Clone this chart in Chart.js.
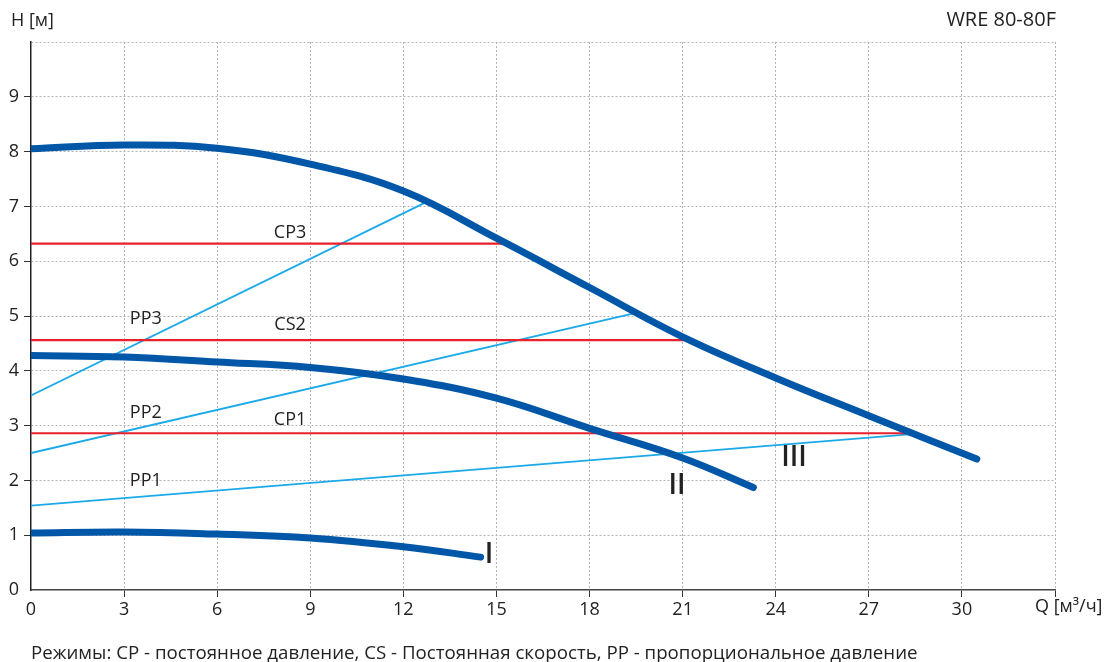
<!DOCTYPE html>
<html>
<head>
<meta charset="utf-8">
<script src="https://cdn.jsdelivr.net/npm/chart.js@4.4.1/dist/chart.umd.min.js"></script>
<style>
  html, body { margin: 0; padding: 0; background: #fff; }
  #wrap { position: relative; width: 1108px; height: 662px; }
</style>
</head>
<body>
<div id="wrap"><canvas id="pumpChart" width="1108" height="662"></canvas></div>
<script>
// Q, м3/ч
const xTicks = [0, 3, 6, 9, 12, 15, 18, 21, 24, 27, 30, 33];
const yTicks = [0, 1, 2, 3, 4, 5, 6, 7, 8, 9, 10];

// speed curves I, II, III
const flowI = [0, 3, 6, 9, 12, 14.49];
const headI = [1.04, 1.06, 1.02, 0.95, 0.79, 0.6];
const flowII = [0, 3, 6, 9, 12, 15, 18, 21, 23.28];
const headII = [4.28, 4.25, 4.16, 4.06, 3.85, 3.5, 2.95, 2.41, 1.87];
const flowIII = [0, 3, 6, 9, 12, 15, 18, 21, 24, 27, 30.48];
const headIII = [8.05, 8.12, 8.06, 7.77, 7.28, 6.42, 5.52, 4.62, 3.87, 3.18, 2.39];

// constant pressure / speed lines
const cpNames = ["CP3", "CS2", "CP1"];
const cpHead = [6.32, 4.56, 2.86];
const cpEnd = [15.28, 21.26, 28.5];

// proportional pressure lines
const ppNames = ["PP3", "PP2", "PP1"];
const ppStartHead = [3.55, 2.5, 1.54];
const ppEndFlow = [12.67, 19.53, 28.5];
const ppEndHead = [7.06, 5.06, 2.85];

// text labels placed in data units
const curveLabels = [
  { text: "CP3", x: 8.35, y: 6.51 },
  { text: "CS2", x: 8.35, y: 4.84 },
  { text: "CP1", x: 8.35, y: 3.11 },
  { text: "PP3", x: 3.7, y: 4.95 },
  { text: "PP2", x: 3.7, y: 3.24 },
  { text: "PP1", x: 3.7, y: 1.99 }
];
const romanLabels = [
  { text: "I", x: 14.76, y: 0.64 },
  { text: "II", x: 20.82, y: 1.9 },
  { text: "III", x: 24.59, y: 2.41 }
];

const FONT = "'Open Sans', 'Noto Sans', sans-serif";
const DARK_BLUE = "#0057a8";
const RED = "#e8212b";
const LIGHT_BLUE = "#1aa9e9";

function toPoints(xs, ys) {
  return xs.map((x, i) => ({ x: x, y: ys[i] }));
}

function buildDatasets() {
  const sets = [];
  [[flowI, headI], [flowII, headII], [flowIII, headIII]].forEach(([xs, ys]) => {
    sets.push({
      data: toPoints(xs, ys),
      borderColor: DARK_BLUE,
      borderWidth: 7,
      borderCapStyle: "round",
      tension: 0.4,
      pointRadius: 0
    });
  });
  cpNames.forEach((name, i) => {
    sets.push({
      label: name,
      data: [{ x: 0, y: cpHead[i] }, { x: cpEnd[i], y: cpHead[i] }],
      borderColor: RED,
      borderWidth: 2.2,
      pointRadius: 0
    });
  });
  ppNames.forEach((name, i) => {
    sets.push({
      label: name,
      data: [{ x: 0, y: ppStartHead[i] }, { x: ppEndFlow[i], y: ppEndHead[i] }],
      borderColor: LIGHT_BLUE,
      borderWidth: 1.8,
      pointRadius: 0
    });
  });
  return sets;
}

const textPlugin = {
  id: "textPlugin",
  afterDatasetsDraw(chart) {
    const ctx = chart.ctx;
    const xs = chart.scales.x;
    const ys = chart.scales.y;
    ctx.save();
    ctx.fillStyle = "#222";
    ctx.textBaseline = "middle";
    ctx.textAlign = "center";
    ctx.font = "18px " + FONT;
    curveLabels.forEach(l => ctx.fillText(l.text, xs.getPixelForValue(l.x), ys.getPixelForValue(l.y)));
    ctx.font = "600 28px " + FONT;
    romanLabels.forEach(l => ctx.fillText(l.text, xs.getPixelForValue(l.x), ys.getPixelForValue(l.y)));

    ctx.font = "18px " + FONT;
    ctx.textAlign = "left";
    ctx.fillText("H [м]", 11, 21);
    ctx.fillText("Q [м³/ч]", xs.getPixelForValue(33) - 20, 607);
    ctx.textAlign = "right";
    ctx.font = "20px " + FONT;
    ctx.fillText("WRE 80-80F", xs.getPixelForValue(33) + 1, 20);

    ctx.textAlign = "left";
    ctx.textBaseline = "alphabetic";
    ctx.font = "18.7px " + FONT;
    ctx.fillText("Режимы: CP - постоянное давление, CS - Постоянная скорость, PP - пропорциональное давление", 31, 659);
    ctx.restore();
  }
};

function gridColor(ctx) {
  return ctx.tick && ctx.tick.value === 0 ? "rgba(0,0,0,0)" : "#b2b2b2";
}

function renderChart() {
  const ctx = document.getElementById("pumpChart").getContext("2d");
  new Chart(ctx, {
    type: "line",
    data: { datasets: buildDatasets() },
    options: {
      responsive: false,
      animation: false,
      events: [],
      layout: { padding: { left: 0, top: 42, right: 53, bottom: 0 } },
      plugins: { legend: { display: false }, tooltip: { enabled: false } },
      scales: {
        x: {
          type: "linear",
          min: 0,
          max: 33,
          afterBuildTicks: s => { s.ticks = xTicks.map(v => ({ value: v })); },
          afterFit: s => { s.height = 72; },
          ticks: {
            color: "#222",
            font: { family: FONT, size: 18 },
            padding: 2,
            maxRotation: 0,
            autoSkip: false,
            callback: v => (v === 33 ? "" : v)
          },
          grid: {
            color: gridColor,
            tickColor: c => (c.tick && c.tick.value === 0 ? "rgba(0,0,0,0)" : "#333"),
            tickLength: 7,
            tickBorderDash: []
          },
          border: { color: "#444", width: 1.5, dash: [2, 2] }
        },
        y: {
          min: 0,
          max: 10,
          afterBuildTicks: s => { s.ticks = yTicks.map(v => ({ value: v })); },
          afterFit: s => { s.width = 31; },
          ticks: {
            color: "#222",
            font: { family: FONT, size: 18 },
            padding: 5,
            autoSkip: false,
            callback: v => (v === 10 ? "" : v)
          },
          grid: {
            color: gridColor,
            tickColor: c => (c.tick && (c.tick.value === 0 || c.tick.value === 10) ? "rgba(0,0,0,0)" : "#333"),
            tickLength: 7,
            tickBorderDash: []
          },
          border: { color: "#222", width: 1.5, dash: [2, 2] }
        }
      }
    },
    plugins: [textPlugin]
  });
}

document.addEventListener("DOMContentLoaded", renderChart);
</script>
</body>
</html>
